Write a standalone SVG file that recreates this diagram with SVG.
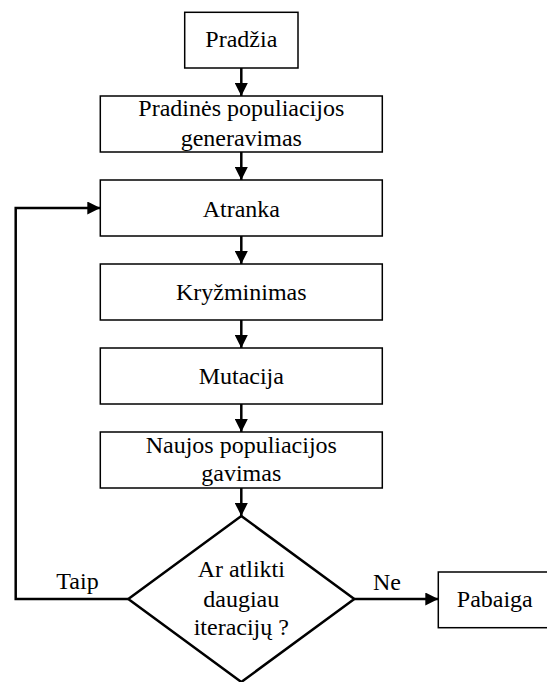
<svg xmlns="http://www.w3.org/2000/svg" width="547" height="682" viewBox="0 0 547 682">
<style>
.box{fill:#fff;stroke:#000;stroke-width:1.5}
.dia{fill:#fff;stroke:#000;stroke-width:2.5}
.t{font-family:'Liberation Serif','Times New Roman',Times,'DejaVu Serif','Noto Serif',serif;font-size:24px;fill:#000;text-anchor:middle}
.c{fill:none;stroke:#000;stroke-width:2.5}
</style>
<defs>
<marker id="ah" markerUnits="userSpaceOnUse" markerWidth="14" markerHeight="13" refX="13" refY="6.5" orient="auto">
<path d="M0,0 L13,6.5 L0,13 Z" fill="#000"/>
</marker>
</defs>
<rect width="547" height="682" fill="#fff"/>
<g id="connectors">
<line class="c" x1="241.3" y1="68" x2="241.3" y2="96" marker-end="url(#ah)"/>
<line class="c" x1="241.3" y1="152" x2="241.3" y2="180" marker-end="url(#ah)"/>
<line class="c" x1="241.3" y1="236" x2="241.3" y2="264" marker-end="url(#ah)"/>
<line class="c" x1="241.3" y1="320" x2="241.3" y2="348" marker-end="url(#ah)"/>
<line class="c" x1="241.3" y1="404" x2="241.3" y2="432" marker-end="url(#ah)"/>
<line class="c" x1="241.3" y1="488" x2="241.3" y2="516" marker-end="url(#ah)"/>
<polyline class="c" points="128.3,599 15.7,599 15.7,208 100.3,208" marker-end="url(#ah)"/>
<line class="c" x1="354.3" y1="599" x2="438.3" y2="599" marker-end="url(#ah)"/>
<text class="t" font-family="Liberation Serif, serif" x="77.5" y="589">Taip</text>
<text class="t" font-family="Liberation Serif, serif" x="387" y="590">Ne</text>
</g>
<g id="start">
<rect class="box" x="184.7" y="12.3" width="113.3" height="55.7"/>
<text class="t" font-family="Liberation Serif, serif" x="241.3" y="46.7">Pradžia</text>
</g>
<g id="init">
<rect class="box" x="100.3" y="96" width="282" height="56"/>
<text class="t" font-family="Liberation Serif, serif" x="241.3" y="116">Pradinės populiacijos</text>
<text class="t" font-family="Liberation Serif, serif" x="241.3" y="145.5">generavimas</text>
</g>
<g id="selection">
<rect class="box" x="100.3" y="180" width="282" height="56"/>
<text class="t" font-family="Liberation Serif, serif" x="241.3" y="216.5">Atranka</text>
</g>
<g id="crossover">
<rect class="box" x="100.3" y="264" width="282" height="56"/>
<text class="t" font-family="Liberation Serif, serif" x="241.3" y="299.5">Kryžminimas</text>
</g>
<g id="mutation">
<rect class="box" x="100.3" y="348" width="282" height="56"/>
<text class="t" font-family="Liberation Serif, serif" x="241.3" y="383.5">Mutacija</text>
</g>
<g id="newpop">
<rect class="box" x="100.3" y="432" width="282" height="56"/>
<text class="t" font-family="Liberation Serif, serif" x="241.3" y="452.5">Naujos populiacijos</text>
<text class="t" font-family="Liberation Serif, serif" x="241.3" y="480.5">gavimas</text>
</g>
<g id="decision">
<polygon class="dia" points="241.3,516 354.3,599 241.3,682 128.3,599"/>
<text class="t" font-family="Liberation Serif, serif" x="241.3" y="576.7">Ar atlikti</text>
<text class="t" font-family="Liberation Serif, serif" x="241.3" y="606.7">daugiau</text>
<text class="t" font-family="Liberation Serif, serif" x="241.3" y="635">iteracijų ?</text>
</g>
<g id="end">
<rect class="box" x="438.3" y="572" width="113" height="55.7"/>
<text class="t" font-family="Liberation Serif, serif" x="494.8" y="606.7">Pabaiga</text>
</g>
</svg>
